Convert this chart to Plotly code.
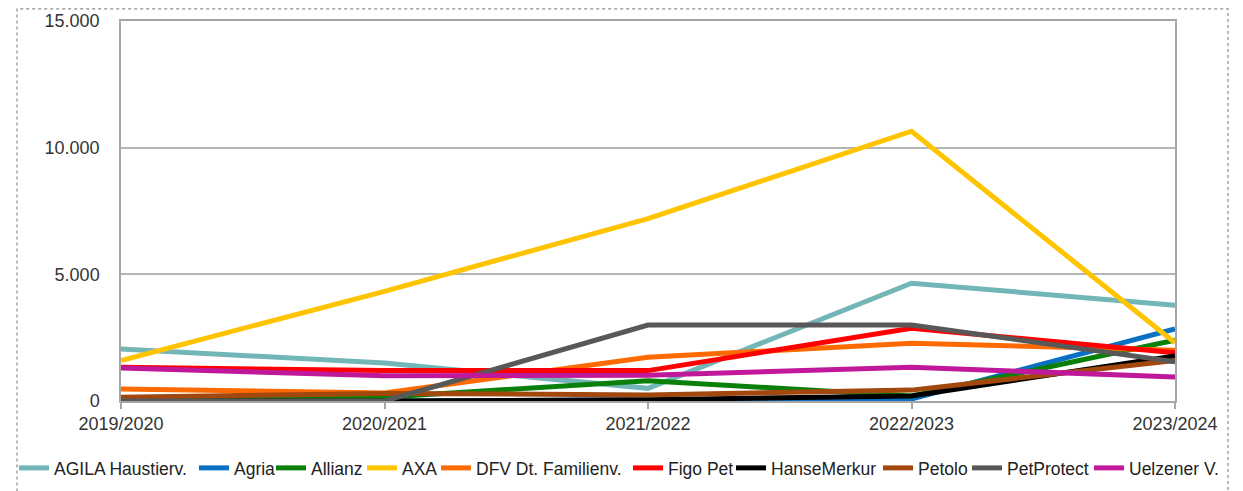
import plotly.graph_objects as go

years = ["2019/2020", "2020/2021", "2021/2022", "2022/2023", "2023/2024"]

agila = [2050, 1500, 500, 4650, 3780]
agria = [0, 0, 50, 80, 2850]
allianz = [0, 150, 800, 200, 2400]
axa = [1600, 4330, 7200, 10650, 2300]
dfv = [470, 320, 1730, 2280, 2000]
figo = [1330, 1200, 1200, 2870, 1900]
hansemerkur = [0, 0, 50, 200, 1780]
petolo = [150, 300, 240, 430, 1600]
petprotect = [0, 0, 3000, 3000, 1550]
uelzener = [1300, 1000, 1020, 1330, 950]

series = [
    ("AGILA Haustierv.", agila, "#72B6B8"),
    ("Agria", agria, "#0A70C4"),
    ("Allianz", allianz, "#0A800A"),
    ("AXA", axa, "#FFC400"),
    ("DFV Dt. Familienv.", dfv, "#FF6A00"),
    ("Figo Pet", figo, "#FF0000"),
    ("HanseMerkur", hansemerkur, "#000000"),
    ("Petolo", petolo, "#A2480E"),
    ("PetProtect", petprotect, "#585858"),
    ("Uelzener V.", uelzener, "#C0189A"),
]

# screen x where each legend entry's symbol starts (layout only)
legend_px = [20, 200, 277, 368, 442, 634, 737, 884, 973, 1095]

OFF = 8  # page body margin
FW, FH = 1243 - OFF, 491 - OFF
L, R, T, B = 121 - OFF, 1175 - OFF, 21 - OFF, 401 - OFF
W = R - L
H = B - T

fig = go.Figure()
font = "Liberation Sans, Arial, sans-serif"
legends = {}
for i, (name, vals, col) in enumerate(series):
    key = "legend" if i == 0 else f"legend{i + 1}"
    fig.add_trace(go.Scatter(x=years, y=vals, name=name, mode="lines",
                             line=dict(color=col, width=5),
                             legend=key))
    legends[key] = dict(orientation="h", xref="container", yref="container",
                        x=(legend_px[i] - OFF - 6) / FW, xanchor="left",
                        y=(FH - (468 - OFF)) / FH, yanchor="middle",
                        font=dict(size=17.5, color="#222222"),
                        itemwidth=30, bgcolor="rgba(0,0,0,0)",
                        borderwidth=0)

fig.update_layout(
    width=FW, height=FH,
    margin=dict(l=L, r=FW - R, t=T, b=FH - B, autoexpand=False),
    paper_bgcolor="white", plot_bgcolor="white",
    separators=",.",
    font=dict(family=font, size=18, color="#333333"),
    showlegend=True,
    xaxis=dict(type="category", range=[0, 4], showgrid=False,
               showline=True, linecolor="#A6A6A6", linewidth=1.5, mirror=True,
               ticks="outside", ticklen=6, tickcolor="#A6A6A6", tickwidth=1.5,
               tickfont=dict(size=18, color="#333333")),
    yaxis=dict(range=[0, 15000], dtick=5000, tickformat=",d",
               showgrid=True, gridcolor="#B5B5B5", gridwidth=1.5,
               showline=True, linecolor="#A6A6A6", linewidth=1.5, mirror=True,
               ticks="", ticklabelstandoff=16, zeroline=False,
               tickfont=dict(size=18, color="#333333")),
    **legends,
)

fig.add_shape(type="rect", xref="paper", yref="paper",
              x0=(17 - OFF - L) / W, x1=(1228 - OFF - L) / W,
              y0=-0.3, y1=(B - 0.8) / H,
              line=dict(color="#8C8C8C", width=1.2, dash="dot"), layer="below")

fig.write_html("out.html")
